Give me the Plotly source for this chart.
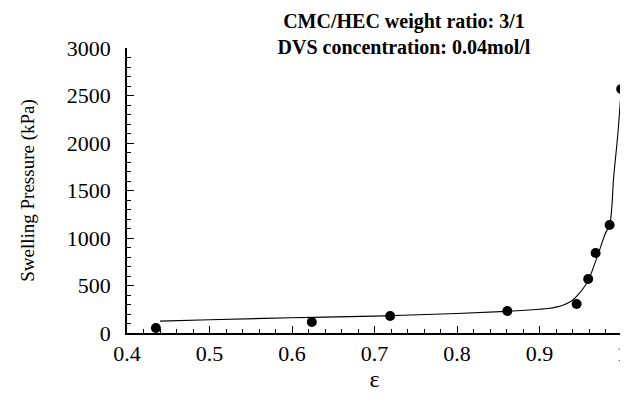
import plotly.graph_objects as go

eps_points = [0.435, 0.624, 0.719, 0.861, 0.945, 0.959, 0.968, 0.985, 0.999]
pressure_points = [53, 116, 179, 232, 305, 568, 842, 1137, 2568]

eps_fit = [0.44, 0.5, 0.6, 0.7, 0.8, 0.86, 0.9, 0.91, 0.92, 0.93, 0.94, 0.948, 0.955, 0.96, 0.97, 0.98, 0.985, 0.99, 0.995, 0.999]
pressure_fit = [125, 140, 160, 178, 205, 228, 250, 258, 272, 298, 345, 415, 495, 571, 804, 1050, 1137, 1650, 2100, 2568]

FF = "Liberation Serif, Times New Roman, serif"

fig = go.Figure()
fig.add_trace(go.Scatter(x=eps_fit, y=pressure_fit, mode="lines",
                         line=dict(color="black", width=1.1), line_shape="spline",
                         showlegend=False, hoverinfo="skip", cliponaxis=False))
fig.add_trace(go.Scatter(x=eps_points, y=pressure_points, mode="markers",
                         marker=dict(color="black", size=10), showlegend=False,
                         cliponaxis=False))

fig.update_layout(
    width=620, height=400,
    margin=dict(l=119, r=6, t=40, b=75, autoexpand=False),
    paper_bgcolor="white", plot_bgcolor="white",
    font=dict(family=FF, size=20, color="black"),
    title=dict(text="<b>CMC/HEC weight ratio: 3/1<br>DVS concentration: 0.04mol/l</b>",
               x=(404 - 8) / 620, xanchor="center", xref="container",
               y=1 - 20 / 400, yanchor="middle", yref="container", automargin=False,
               font=dict(family=FF, size=20, color="black")),
    xaxis=dict(range=[0.4, 1.0], tickvals=[0.4, 0.5, 0.6, 0.7, 0.8, 0.9, 1.0],
               ticktext=["0.4", "0.5", "0.6", "0.7", "0.8", "0.9", "1"],
               ticks="inside", ticklen=7, tickwidth=1.2, tickcolor="black",
               minor=dict(dtick=0.02, ticks="inside", ticklen=4, tickcolor="black", tickwidth=1),
               showline=True, linecolor="black", linewidth=1.5, showgrid=False, zeroline=False,
               automargin=False,
               title=dict(text="ε", standoff=4, font=dict(family=FF, size=24)),
               tickfont=dict(family=FF, size=22)),
    yaxis=dict(range=[0, 3000], tickvals=[0, 500, 1000, 1500, 2000, 2500, 3000],
               ticks="inside", ticklen=7, tickwidth=1.2, tickcolor="black",
               minor=dict(dtick=100, ticks="inside", ticklen=4, tickcolor="black", tickwidth=1),
               showline=True, linecolor="black", linewidth=1.5, showgrid=False, zeroline=False,
               automargin=False, ticklabelstandoff=10,
               title=dict(text="Swelling Pressure (kPa)", standoff=27, font=dict(family=FF, size=19)),
               tickfont=dict(family=FF, size=22)),
)

fig.write_html("out.html")
